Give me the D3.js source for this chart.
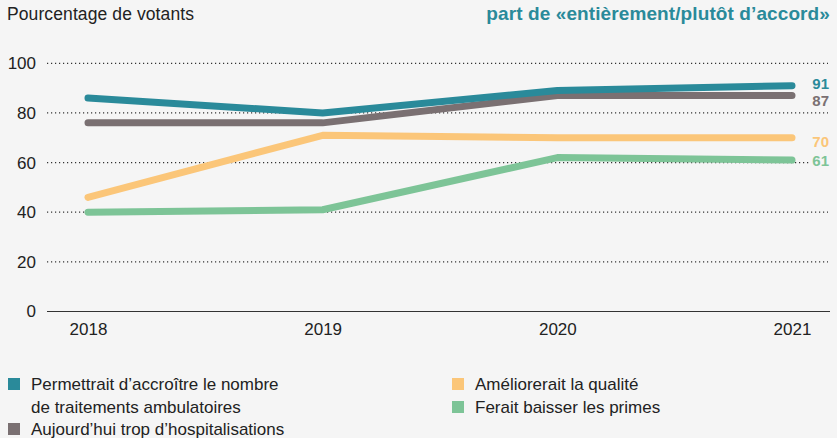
<!DOCTYPE html>
<html lang="fr">
<head>
<meta charset="utf-8">
<style>
  body { margin: 0; background: #f5f5f5; }
  svg { display: block; font-family: "Liberation Sans", Arial, sans-serif; }
</style>
</head>
<body>
<svg id="chart"></svg>
<script src="https://d3js.org/d3.v7.min.js"></script>
<script>

    var years = [2018, 2019, 2020, 2021];
    var yTicks = [0, 20, 40, 60, 80, 100];

    var names = ["ambulatoire", "hospitalisations", "qualite", "primes"];
    var ambulatoire = [86, 80, 89, 91];
    var hospitalisations = [76, 76, 87, 87];
    var qualite = [46, 71, 70, 70];
    var primes = [40, 41, 62, 61];
    var colors = ["#2a8a9a", "#7a7072", "#fbc679", "#7dc497"];

    var legendLines = [
        ["Permettrait d\u2019accroître le nombre", "de traitements ambulatoires"],
        ["Aujourd\u2019hui trop d\u2019hospitalisations"],
        ["Améliorerait la qualité"],
        ["Ferait baisser les primes"]
    ];

    var width = 837, height = 438;
    var svg = d3.select("#chart").attr("width", width).attr("height", height);

    svg.append("rect").attr("width", width).attr("height", height).attr("fill", "#f5f5f5");

    // scales
    var x = d3.scalePoint().domain(years).range([88, 792]);
    var y = d3.scaleLinear().domain([0, 100]).range([311.5, 63.3]);

    // header texts
    svg.append("text")
        .attr("x", 7).attr("y", 20)
        .attr("font-size", "17.5px").attr("letter-spacing", "0.1px")
        .attr("fill", "#222")
        .text("Pourcentage de votants");
    svg.append("text")
        .attr("x", 830).attr("y", 20)
        .attr("text-anchor", "end")
        .attr("font-size", "19px").attr("font-weight", "bold").attr("letter-spacing", "0.1px")
        .attr("fill", "#2a8a9a")
        .text("part de «entièrement/plutôt d\u2019accord»");

    // grid
    var g = svg.append("g");
    g.selectAll(".grid")
        .data(yTicks.filter(function (d) { return d > 0; }))
        .enter()
        .append("line")
        .attr("x1", 47).attr("x2", 828)
        .attr("y1", function (d) { return y(d); })
        .attr("y2", function (d) { return y(d); })
        .attr("stroke", "#333")
        .attr("stroke-width", 1.2)
        .attr("stroke-dasharray", "1.2,2.8");

    // baseline
    g.append("line")
        .attr("x1", 47).attr("x2", 830)
        .attr("y1", y(0)).attr("y2", y(0))
        .attr("stroke", "#333").attr("stroke-width", 1.2);

    // y labels
    g.selectAll(".ylab")
        .data(yTicks)
        .enter()
        .append("text")
        .attr("x", 36)
        .attr("y", function (d) { return y(d); })
        .attr("dy", "0.35em")
        .attr("text-anchor", "end")
        .attr("font-size", "17px")
        .attr("fill", "#222")
        .text(function (d) { return d; });

    // x labels
    var xAxis = d3.axisBottom(x).tickSize(0).tickPadding(11);
    var xg = g.append("g").attr("transform", "translate(0," + y(0) + ")").call(xAxis);
    xg.select(".domain").remove();
    xg.selectAll("text").attr("font-size", "17px").attr("fill", "#222")
        .attr("font-family", "Liberation Sans, Arial, sans-serif");

    // lines
    var series = [ambulatoire, hospitalisations, qualite, primes];
    var line = d3.line()
        .x(function (d, i) { return x(years[i]); })
        .y(function (d) { return y(d); });

    // draw order: green, yellow, grey, teal (teal on top)
    [3, 2, 1, 0].forEach(function (k) {
        g.append("path")
            .attr("d", line(series[k]))
            .attr("fill", "none")
            .attr("stroke", colors[k])
            .attr("stroke-width", 7)
            .attr("stroke-linecap", "round")
            .attr("stroke-linejoin", "round");
    });

    // end labels
    var labelOffset = [-1.5, 5, 4, 1];
    series.forEach(function (s, k) {
        var last = s[s.length - 1];
        var ly = y(last) + labelOffset[k];
        g.append("rect")
            .attr("x", 809).attr("y", ly - 8)
            .attr("width", 22).attr("height", 16)
            .attr("fill", "#f5f5f5");
        g.append("text")
            .attr("x", 829)
            .attr("y", ly)
            .attr("dy", "0.35em")
            .attr("text-anchor", "end")
            .attr("font-size", "15px")
            .attr("font-weight", "bold")
            .attr("fill", colors[k])
            .text(last);
    });

    // legend
    var legendPos = [
        {x: 8, y: 384}, {x: 8, y: 429},
        {x: 452, y: 384}, {x: 452, y: 407}
    ];
    legendPos.forEach(function (p, k) {
        svg.append("rect")
            .attr("x", p.x).attr("y", p.y - 6)
            .attr("width", 12).attr("height", 12)
            .attr("fill", colors[k]);
        legendLines[k].forEach(function (t, j) {
            svg.append("text")
                .attr("x", p.x + 23)
                .attr("y", p.y + j * 23)
                .attr("dy", "0.35em")
                .attr("font-size", "17px")
                .attr("fill", "#222")
                .text(t);
        });
    });

</script>
</body>
</html>
